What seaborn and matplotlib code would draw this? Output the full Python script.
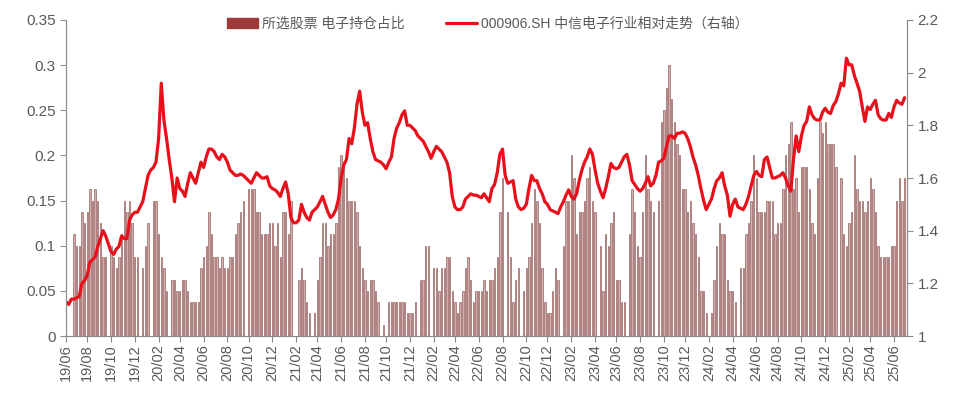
import numpy as np
import pandas as pd
import matplotlib
matplotlib.use("Agg")
import matplotlib.pyplot as plt
import seaborn as sns
from matplotlib.patches import Patch

# ---------------- data (weekly, starting 2019-06-07) ----------------
start_date = "2019-06-07"

holding_ratio = [
    0, 0, 0, 0.1125, 0.1, 0.1, 0.1375, 0.125, 0.1375, 0.1625,
    0.15, 0.1625, 0.15, 0.125, 0.0875, 0.0875, 0, 0.1, 0.0875, 0.075,
    0.0875, 0.1125, 0.15, 0.1375, 0.15, 0.125, 0.0875, 0.0875, 0, 0.075,
    0.1, 0.125, 0, 0.15, 0.15, 0.1125, 0.0875, 0.075, 0.05, 0,
    0.0625, 0.0625, 0.05, 0.05, 0.0625, 0.0625, 0.05, 0.0375, 0.0375, 0.0375,
    0.0375, 0.075, 0.0875, 0.1, 0.1375, 0.1125, 0.0875, 0.0875, 0.075, 0.0875,
    0.075, 0.075, 0.0875, 0.0875, 0.1125, 0.125, 0.1375, 0.15, 0, 0.1625,
    0.1625, 0.1625, 0.1375, 0.1375, 0.1125, 0.1125, 0.1125, 0.125, 0.125, 0.1,
    0.125, 0.0875, 0.1375, 0.1375, 0.1125, 0.15, 0, 0, 0.0625, 0.075,
    0.0625, 0.0375, 0.025, 0, 0.025, 0.0625, 0.0875, 0.125, 0.125, 0.1,
    0.1125, 0.1125, 0.125, 0.1875, 0.2, 0.1875, 0.175, 0.15, 0.15, 0.15,
    0.1375, 0.1, 0.075, 0.0625, 0.05, 0.0625, 0.0625, 0.05, 0.0375, 0,
    0.0125, 0, 0.0375, 0.0375, 0.0375, 0.0375, 0.0375, 0.0375, 0.0375, 0.025,
    0.025, 0.025, 0.0375, 0, 0.0625, 0.0625, 0.1, 0.1, 0, 0.075,
    0.075, 0.05, 0.075, 0.075, 0.0875, 0.0875, 0.05, 0.0375, 0.025, 0.0375,
    0.05, 0.075, 0.0875, 0.0625, 0.0375, 0.05, 0.05, 0.05, 0.0625, 0.05,
    0.0625, 0.0625, 0.075, 0.0875, 0.1375, 0.175, 0, 0.1375, 0.0875, 0.0375,
    0.0625, 0.075, 0, 0.05, 0.075, 0.0875, 0.125, 0.1625, 0.15, 0.125,
    0.075, 0.0375, 0.025, 0.025, 0.05, 0.075, 0.0625, 0, 0.1, 0.15,
    0.15, 0.2, 0.175, 0.1125, 0.1375, 0.1375, 0.15, 0.175, 0.1875, 0.15,
    0.1375, 0, 0.1, 0.05, 0.1125, 0.1, 0.125, 0.1375, 0.0625, 0.0625,
    0.0375, 0.0375, 0, 0.1125, 0.1625, 0.1375, 0.1, 0.0875, 0.1375, 0.2,
    0.1625, 0.15, 0.1375, 0, 0.15, 0.2375, 0.25, 0.275, 0.3, 0.2625,
    0.2375, 0.2125, 0.2, 0.1625, 0.1625, 0.1375, 0.15, 0.125, 0.1125, 0.0875,
    0.05, 0.05, 0.025, 0, 0.025, 0.0625, 0.1, 0.125, 0.1125, 0.1125,
    0.0625, 0.05, 0.05, 0.0375, 0, 0.075, 0.075, 0.1125, 0.125, 0.15,
    0.2, 0.175, 0.1375, 0.1375, 0.1375, 0.15, 0.15, 0.15, 0.1125, 0.125,
    0.125, 0.1625, 0.2, 0.2125, 0.2375, 0.1625, 0.175, 0.1375, 0.1875, 0.1875,
    0.1875, 0.1625, 0.125, 0.1125, 0.175, 0.2375, 0.225, 0.2375, 0.2125, 0.2125,
    0.2125, 0.1875, 0, 0.175, 0.1125, 0.1, 0.125, 0.1375, 0.2, 0.1625,
    0.15, 0.15, 0.1375, 0.15, 0.175, 0.1625, 0.1375, 0.1, 0.0875, 0.0875,
    0.0875, 0.0875, 0.1, 0.1, 0.15, 0.175, 0.15, 0.175,
]

relative_trend = [
    1.13, 1.12, 1.14, 1.14, 1.145, 1.15, 1.20, 1.21, 1.23, 1.28,
    1.29, 1.30, 1.34, 1.37, 1.40, 1.38, 1.35, 1.32, 1.31, 1.33,
    1.34, 1.38, 1.37, 1.37, 1.44, 1.46, 1.47, 1.47, 1.49, 1.51,
    1.56, 1.61, 1.63, 1.64, 1.66, 1.75, 1.96, 1.82, 1.75, 1.67,
    1.60, 1.51, 1.60, 1.56, 1.55, 1.53, 1.58, 1.62, 1.60, 1.58,
    1.62, 1.66, 1.64, 1.68, 1.71, 1.71, 1.70, 1.68, 1.67, 1.69,
    1.68, 1.66, 1.63, 1.62, 1.61, 1.61, 1.615, 1.61, 1.60, 1.59,
    1.58, 1.60, 1.62, 1.61, 1.60, 1.60, 1.605, 1.57, 1.56, 1.555,
    1.545, 1.53, 1.56, 1.585, 1.54, 1.45, 1.43, 1.43, 1.44, 1.50,
    1.47, 1.45, 1.44, 1.47, 1.48, 1.49, 1.51, 1.53, 1.50, 1.47,
    1.45, 1.46, 1.48, 1.52, 1.60, 1.65, 1.67, 1.75, 1.73, 1.79,
    1.88, 1.93, 1.85, 1.80, 1.81, 1.75, 1.70, 1.67, 1.665, 1.66,
    1.65, 1.635, 1.66, 1.68, 1.75, 1.79, 1.81, 1.84, 1.855, 1.80,
    1.80, 1.79, 1.78, 1.76, 1.75, 1.74, 1.72, 1.70, 1.675, 1.70,
    1.72, 1.71, 1.70, 1.68, 1.66, 1.62, 1.53, 1.49, 1.48, 1.48,
    1.49, 1.52, 1.53, 1.54, 1.535, 1.535, 1.53, 1.525, 1.54, 1.525,
    1.51, 1.56, 1.575, 1.62, 1.69, 1.71, 1.61, 1.58, 1.585, 1.59,
    1.52, 1.49, 1.48, 1.485, 1.50, 1.56, 1.61, 1.59, 1.59, 1.56,
    1.54, 1.51, 1.50, 1.48, 1.475, 1.47, 1.465, 1.49, 1.51, 1.535,
    1.555, 1.53, 1.52, 1.54, 1.59, 1.63, 1.66, 1.68, 1.71, 1.69,
    1.63, 1.58, 1.55, 1.525, 1.56, 1.605, 1.655, 1.64, 1.635, 1.64,
    1.66, 1.68, 1.69, 1.65, 1.59, 1.575, 1.56, 1.55, 1.56, 1.58,
    1.605, 1.57, 1.58, 1.61, 1.66, 1.665, 1.675, 1.72, 1.76, 1.76,
    1.75, 1.77, 1.77, 1.775, 1.77, 1.75, 1.72, 1.68, 1.65, 1.61,
    1.56, 1.515, 1.48, 1.50, 1.52, 1.56, 1.59, 1.60, 1.62, 1.57,
    1.535, 1.455, 1.50, 1.52, 1.49, 1.485, 1.48, 1.50, 1.53, 1.57,
    1.61, 1.625, 1.61, 1.605, 1.67, 1.68, 1.64, 1.60, 1.60, 1.605,
    1.61, 1.62, 1.60, 1.57, 1.55, 1.67, 1.76, 1.70, 1.76, 1.80,
    1.815, 1.87, 1.84, 1.825, 1.82, 1.82, 1.85, 1.865, 1.85, 1.845,
    1.875, 1.89, 1.92, 1.96, 1.95, 2.055, 2.03, 2.03, 1.99, 1.96,
    1.93, 1.87, 1.815, 1.87, 1.86, 1.88, 1.895, 1.84, 1.825, 1.82,
    1.82, 1.845, 1.83, 1.87, 1.895, 1.885, 1.88, 1.905,
]

left_ticks = [0, 0.05, 0.1, 0.15, 0.2, 0.25, 0.3, 0.35]
left_tick_labels = ["0", "0.05", "0.1", "0.15", "0.2", "0.25", "0.3", "0.35"]
right_ticks = [1, 1.2, 1.4, 1.6, 1.8, 2.0, 2.2]
right_tick_labels = ["1", "1.2", "1.4", "1.6", "1.8", "2", "2.2"]

bar_label = "所选股票 电子持仓占比"
line_label = "000906.SH 中信电子行业相对走势（右轴）"

# ---------------- build frame ----------------
n = len(holding_ratio)
dates = pd.date_range(start_date, periods=n, freq="W-FRI")
df = pd.DataFrame({
    "idx": np.arange(n),
    "date": dates,
    "ratio": holding_ratio,
    "trend": relative_trend,
})

tick_pos = [i for i, d in enumerate(dates) if d.month % 2 == 0 and d.day <= 7]
tick_lab = [dates[i].strftime("%y/%m") for i in tick_pos]

# ---------------- style ----------------
sns.set_theme(style="white")
plt.rcParams["font.family"] = ["Liberation Sans", "Noto Sans CJK SC", "DejaVu Sans"]
grey = "#595959"
axis_grey = "#8c8c8c"

fig = plt.figure(figsize=(9.57, 3.96), dpi=100)
ax = fig.add_axes([0.069, 0.1515, 0.879, 0.798])

sns.barplot(data=df, x="idx", y="ratio", ax=ax, color="#cfb0b0",
            edgecolor="#8a4545", linewidth=0.4, width=0.52, saturation=1,
            label=bar_label)

ax2 = ax.twinx()
sns.lineplot(data=df, x="idx", y="trend", ax=ax2, color="#e8101a",
             linewidth=2.3, label=line_label, legend=False)

ax.set_xlim(0, n)
ax.set_ylim(0, 0.35)
ax2.set_ylim(1, 2.2)
ax2.set_xlim(0, n)

ax.set_yticks(left_ticks)
ax.set_yticklabels(left_tick_labels)
ax2.set_yticks(right_ticks)
ax2.set_yticklabels(right_tick_labels)
ax.set_xticks(tick_pos)
ax.set_xticklabels(tick_lab, rotation=90)

for a in (ax, ax2):
    a.set_xlabel("")
    a.set_ylabel("")
    for s in a.spines.values():
        s.set_color(axis_grey)
        s.set_linewidth(0.8)
    a.spines["top"].set_visible(False)
    a.tick_params(colors=axis_grey, labelcolor=grey, labelsize=11,
                  length=4, width=0.8)
ax.tick_params(axis="x", labelsize=10.5, length=4, pad=2, direction="out", bottom=True)
ax.tick_params(axis="y", left=True, direction="out")
ax2.tick_params(axis="y", right=True, direction="out")
ax.grid(False)
ax2.grid(False)

if ax.get_legend() is not None:
    ax.get_legend().remove()

h2, l2 = ax2.get_legend_handles_labels()
bar_handle = Patch(facecolor="#9e3a3a", edgecolor="#9e3a3a")
leg = fig.legend([bar_handle, h2[0]], [bar_label, line_label], loc="center",
                 bbox_to_anchor=(0.51, 0.94), ncol=2, frameon=False,
                 fontsize=10, columnspacing=3.0, handlelength=2.2,
                 handletextpad=0.3)
for t in leg.get_texts():
    t.set_color(grey)

fig.savefig("out.png", dpi=100, facecolor="white")
